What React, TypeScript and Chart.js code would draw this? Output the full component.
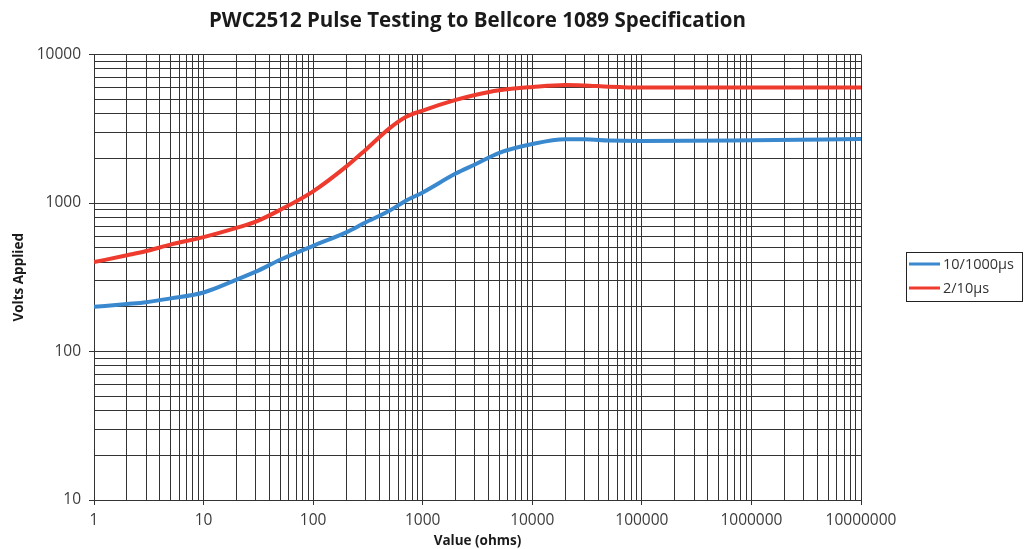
import React, { useEffect, useRef } from "react";
import { Chart, registerables } from "chart.js";

Chart.register(...registerables);

// ---- data ----
const xValues = [1, 2, 3, 5, 10, 20, 30, 50, 100, 200, 300, 500, 700, 1000, 2000, 3000, 5000, 10000, 20000, 30000, 50000, 100000, 1000000, 10000000];
const blueValues = [200, 209, 215, 228, 250, 305, 345, 415, 515, 635, 740, 890, 1035, 1180, 1580, 1820, 2180, 2500, 2690, 2690, 2640, 2620, 2650, 2700];
const redValues = [400, 445, 475, 525, 590, 680, 750, 900, 1200, 1760, 2280, 3200, 3800, 4200, 4950, 5350, 5750, 6050, 6250, 6200, 6080, 6000, 6000, 6000];
const seriesLabels = ["10/1000µs", "2/10µs"];
const xTickLabels = ["1", "10", "100", "1000", "10000", "100000", "1000000", "10000000"];
const yTickLabels = ["10", "100", "1000", "10000"];
const titleText = "PWC2512 Pulse Testing to Bellcore 1089 Specification";
const xTitle = "Value (ohms)";
const yTitle = "Volts Applied";

const FONT = "'Open Sans', 'DejaVu Sans', sans-serif";
const GRID = "#333333";
const BLUE = "#3a89cf";
const RED = "#ee3b2d";

function gridTicks(labels: string[]) {
  const decades = labels.map(Number);
  const out: { value: number; major: boolean }[] = [];
  for (let i = 0; i < decades.length; i++) {
    const d = decades[i];
    if (i === decades.length - 1) {
      out.push({ value: d, major: true });
      break;
    }
    for (let m = 1; m <= 9; m++) out.push({ value: d * m, major: m === 1 });
  }
  return out;
}

const legendBoxPlugin = {
  id: "legendBox",
  afterDraw(chart: any) {
    const ctx = chart.ctx;
    const x0 = 906, y0 = 252, w = 116, h = 49;
    ctx.save();
    ctx.strokeStyle = "#222";
    ctx.lineWidth = 1;
    ctx.strokeRect(x0 + 0.5, y0 + 0.5, w, h);
    ctx.font = `14.5px ${FONT}`;
    ctx.textBaseline = "middle";
    ctx.textAlign = "left";
    chart.data.datasets.forEach((ds: any, i: number) => {
      const y = y0 + 12 + i * 24;
      ctx.strokeStyle = ds.borderColor;
      ctx.lineWidth = 3;
      ctx.beginPath();
      ctx.moveTo(x0 + 3, y);
      ctx.lineTo(x0 + 34, y);
      ctx.stroke();
      ctx.fillStyle = "#333";
      ctx.fillText(ds.label, x0 + 37, y + 1);
    });
    ctx.restore();
  },
};

export default function App() {
  const ref = useRef<HTMLCanvasElement>(null);
  useEffect(() => {
    if (!ref.current) return;
    const xt = gridTicks(xTickLabels);
    const yt = gridTicks(yTickLabels);
    const chart = new Chart(ref.current, {
      type: "line",
      data: {
        datasets: [
          {
            label: seriesLabels[0],
            data: xValues.map((x, i) => ({ x, y: blueValues[i] })),
            borderColor: BLUE,
            backgroundColor: BLUE,
            borderWidth: 4,
            pointRadius: 0,
            cubicInterpolationMode: "monotone",
          },
          {
            label: seriesLabels[1],
            data: xValues.map((x, i) => ({ x, y: redValues[i] })),
            borderColor: RED,
            backgroundColor: RED,
            borderWidth: 4,
            pointRadius: 0,
            cubicInterpolationMode: "monotone",
          },
        ],
      },
      options: {
        responsive: false,
        animation: false,
        devicePixelRatio: 1,
        layout: { padding: { left: 0, right: 165, top: 0, bottom: 0 } },
        plugins: {
          legend: { display: false },
          tooltip: { enabled: false },
          title: {
            display: true,
            fullSize: false,
            text: titleText,
            color: "#1a1a1a",
            font: { family: FONT, size: 20.5, weight: "bold" },
            padding: { top: 9, bottom: 21 },
          },
        },
        scales: {
          x: {
            type: "logarithmic",
            min: 1,
            max: 10000000,
            afterBuildTicks: (s: any) => { s.ticks = xt.map((t) => ({ ...t })); },
            afterFit: (s: any) => { s.height = 49; },
            ticks: {
              autoSkip: false,
              maxRotation: 0,
              minRotation: 0,
              padding: 6,
              color: "#3c3c3c",
              font: { family: FONT, size: 15.5 },
              callback: (v: any) => {
                const s = String(v);
                return xTickLabels.includes(s) ? s : "";
              },
            },
            grid: {
              color: GRID,
              lineWidth: 1,
              drawTicks: true,
              tickLength: 5,
              tickColor: (c: any) => (c.tick && c.tick.major ? GRID : "rgba(0,0,0,0)"),
            },
            border: { display: true, color: GRID, width: 1 },
            title: {
              display: true,
              text: xTitle,
              color: "#1a1a1a",
              font: { family: FONT, size: 13.5, weight: "bold" },
              padding: { top: 1, bottom: 0 },
            },
          },
          y: {
            type: "logarithmic",
            min: 10,
            max: 10000,
            afterBuildTicks: (s: any) => { s.ticks = yt.map((t) => ({ ...t })); },
            afterFit: (s: any) => { s.width = 94; },
            ticks: {
              autoSkip: false,
              padding: 8,
              color: "#3c3c3c",
              font: { family: FONT, size: 15.5 },
              callback: (v: any) => {
                const s = String(v);
                return yTickLabels.includes(s) ? s : "";
              },
            },
            grid: {
              color: GRID,
              lineWidth: 1,
              drawTicks: true,
              tickLength: 5,
              tickColor: (c: any) => (c.tick && c.tick.major ? GRID : "rgba(0,0,0,0)"),
            },
            border: { display: true, color: GRID, width: 1 },
            title: {
              display: true,
              text: yTitle,
              color: "#1a1a1a",
              font: { family: FONT, size: 13.5, weight: "bold" },
              padding: { top: 11, bottom: 0 },
            },
          },
        },
      },
      plugins: [legendBoxPlugin],
    } as any);
    return () => chart.destroy();
  }, []);
  return (
    <div style={{ position: "fixed", left: 0, top: 0, width: 1026, height: 549, background: "#fff" }}>
      <canvas ref={ref} width={1026} height={549} style={{ display: "block" }} />
    </div>
  );
}
